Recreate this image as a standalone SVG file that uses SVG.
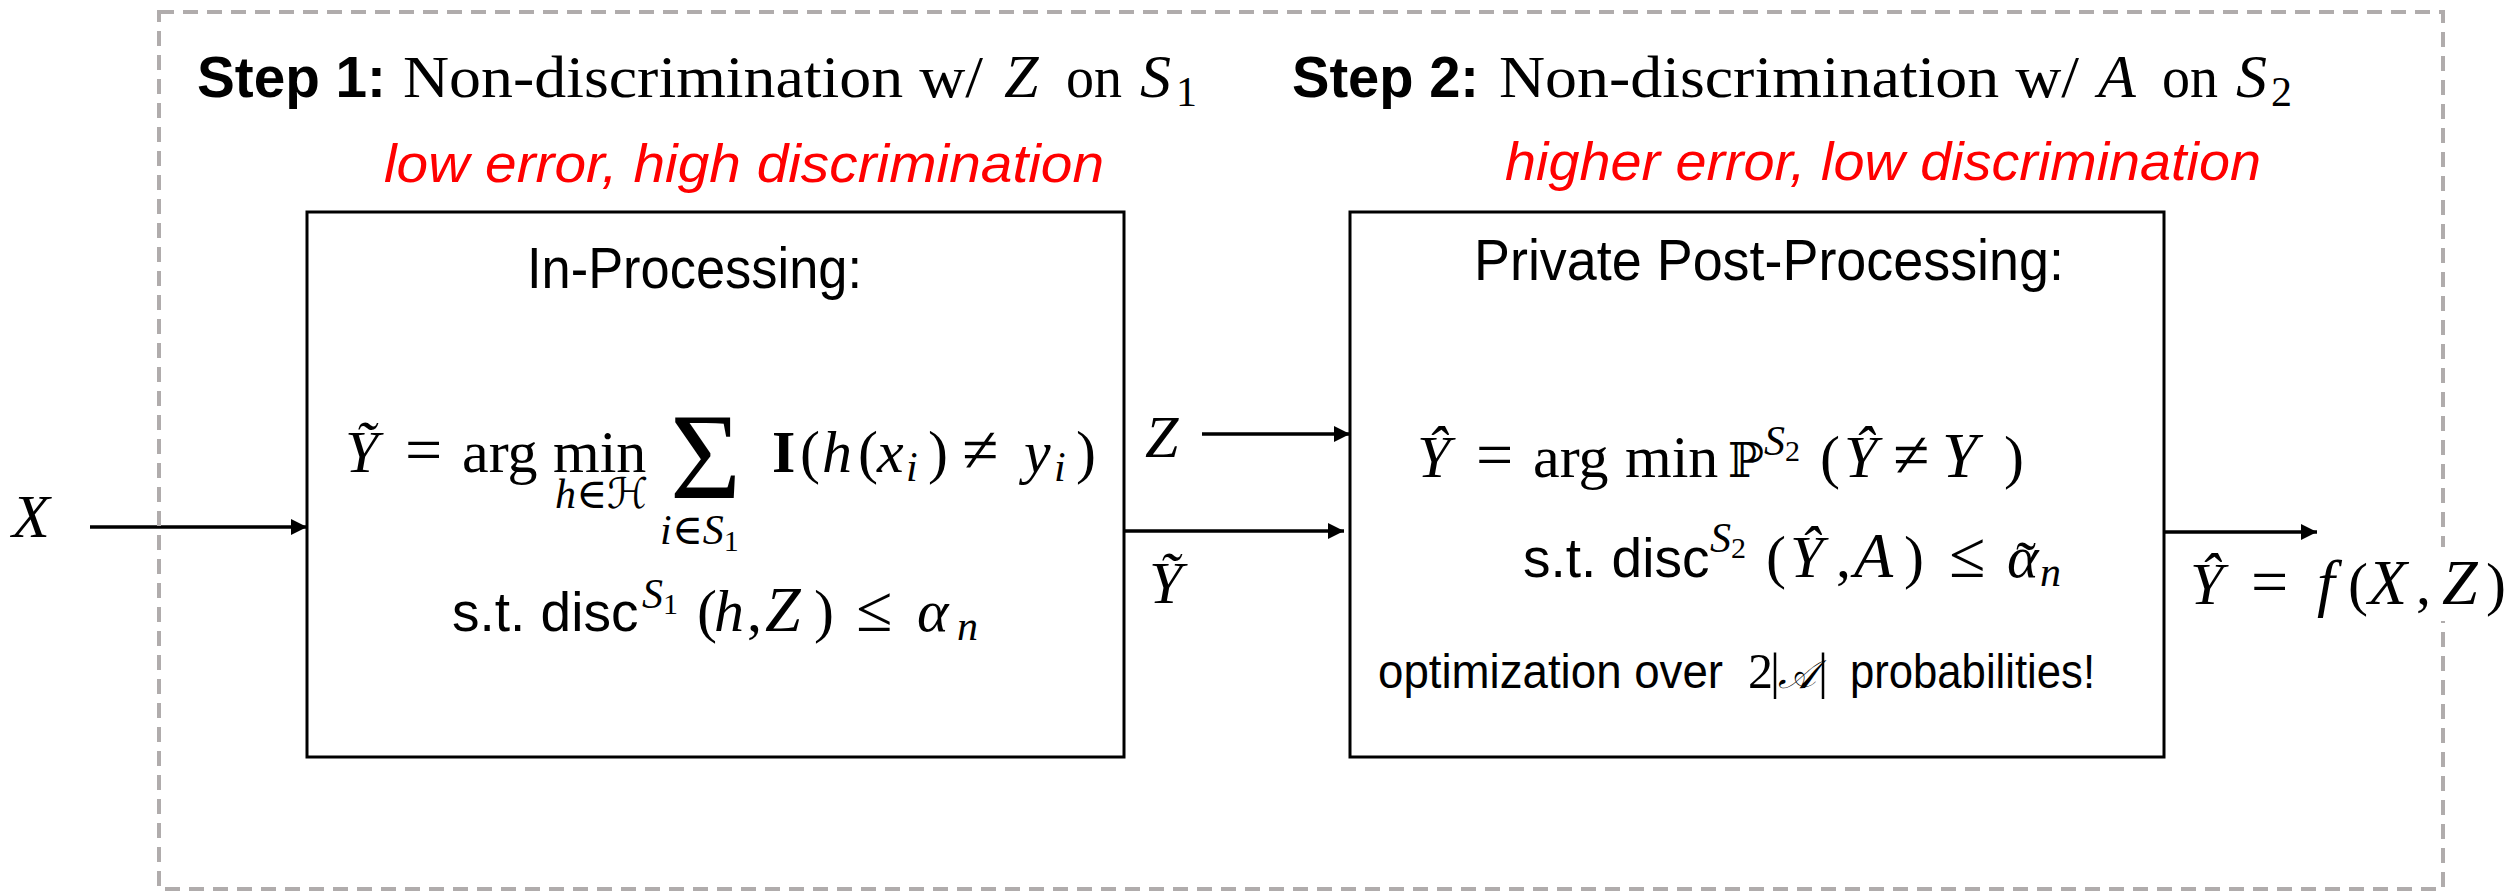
<svg xmlns="http://www.w3.org/2000/svg" width="2510" height="895" viewBox="0 0 2510 895">
<style>
  .sf{font-family:"Liberation Serif","DejaVu Serif",serif;fill:#000}
  .ss{font-family:"Liberation Sans","DejaVu Sans",sans-serif;fill:#000}
  .sb{font-family:"Liberation Sans","DejaVu Sans",sans-serif;font-weight:bold;fill:#000}
  .it{font-style:italic}
  .red{font-family:"Liberation Sans","DejaVu Sans",sans-serif;font-style:italic;fill:#ff0000}
  .dj{font-family:"DejaVu Serif","DejaVu Sans",serif}
  .box{fill:#fff;stroke:#000;stroke-width:3}
  .edge{stroke:#000;stroke-width:3.5;fill:none}
  .border{fill:none;stroke:#b0acac;stroke-width:4;stroke-dasharray:15 9}
</style>
<defs>
  <marker id="ah" markerWidth="16" markerHeight="16" refX="16" refY="8" orient="auto" markerUnits="userSpaceOnUse">
    <path d="M0,0 L16,8 L0,16 Z" fill="#000"/>
  </marker>
</defs>
<rect width="2510" height="895" fill="#fff"/>

<g id="box1">
  <rect class="box" x="307" y="212" width="817" height="545"/>
  <text class="ss" x="527" y="288" font-size="58" textLength="335" lengthAdjust="spacingAndGlyphs">In-Processing:</text>
  <g class="sf" font-size="60">
    <text x="345" y="472" class="sf it">Ỹ</text>
    <text x="405" y="472" font-size="66">=</text>
    <text x="462" y="472">arg</text>
    <text class="sf"><tspan x="553" y="472">min</tspan><tspan x="555" y="508" font-size="42" class="it">h</tspan><tspan class="dj" font-size="42">∈</tspan><tspan class="dj it" font-size="42">ℋ</tspan><tspan x="670" y="498" font-size="122">Σ</tspan><tspan x="660" y="544" font-size="42" class="it">i</tspan><tspan class="dj" font-size="42">∈</tspan><tspan class="it" font-size="42">S</tspan><tspan font-size="30" dy="7">1</tspan></text>
    <text x="772" y="472" font-weight="bold">I</text>
    <text x="800" y="472">(</text>
    <text x="822" y="472" class="sf it">h</text>
    <text x="858" y="472">(</text>
    <text x="877" y="472" class="sf it">x</text>
    <text x="906" y="481" font-size="42" class="sf it">i</text>
    <text x="928" y="472">)</text>
    <text x="962" y="472" font-size="66">≠</text>
    <text x="1024" y="472" class="sf it">y</text>
    <text x="1054" y="481" font-size="42" class="sf it">i</text>
    <text x="1076" y="472">)</text>
  </g>
  <text class="ss" x="452" y="631" font-size="55">s.t. disc</text>
  <g class="sf" font-size="60">
    <text x="642" y="608" font-size="42"><tspan class="it">S</tspan><tspan font-size="30" dy="6">1</tspan></text>
    <text x="697" y="631">(</text>
    <text x="714" y="631" class="sf it">h</text>
    <text x="747" y="631">,</text>
    <text x="765" y="631" class="sf it" font-size="64">Z</text>
    <text x="814" y="631">)</text>
    <text x="856" y="631" font-size="66">≤</text>
    <text x="917" y="631" class="sf it">α</text>
    <text x="957" y="640" font-size="42" class="sf it">n</text>
  </g>
</g>

<g id="box2">
  <rect class="box" x="1350" y="212" width="814" height="545"/>
  <text class="ss" x="1474" y="280" font-size="58" textLength="590" lengthAdjust="spacingAndGlyphs">Private Post-Processing:</text>
  <g class="sf" font-size="60">
    <text x="1417" y="477" class="sf it">Ŷ</text>
    <text x="1476" y="477" font-size="66">=</text>
    <text x="1533" y="477">arg</text>
    <text x="1625" y="477">min</text>
    <text x="1728" y="477" class="dj" font-size="48">ℙ</text>
    <text x="1764" y="455" font-size="42"><tspan class="it">S</tspan><tspan font-size="30" dy="6">2</tspan></text>
    <text x="1820" y="477">(</text>
    <text x="1844" y="477" class="sf it">Ŷ</text>
    <text x="1893" y="477" font-size="66">≠</text>
    <text x="1942" y="477" class="sf it" font-size="64">Y</text>
    <text x="2004" y="477">)</text>
  </g>
  <text class="ss" x="1523" y="577" font-size="55">s.t. disc</text>
  <g class="sf" font-size="60">
    <text x="1710" y="552" font-size="42"><tspan class="it">S</tspan><tspan font-size="30" dy="6">2</tspan></text>
    <text x="1766" y="577">(</text>
    <text x="1790" y="577" class="sf it">Ŷ</text>
    <text x="1836" y="577">,</text>
    <text x="1854" y="577" class="sf it" font-size="64">A</text>
    <text x="1904" y="577">)</text>
    <text x="1949" y="577" font-size="66">≤</text>
    <text class="sf"><tspan x="2007" y="577" class="it">α</tspan><tspan x="2016" y="582">˜</tspan><tspan x="2040" y="586" font-size="42" class="it">n</tspan></text>
  </g>
  <text class="ss" x="1378" y="688" font-size="48" textLength="345" lengthAdjust="spacingAndGlyphs">optimization over</text>
  <g class="sf" font-size="50">
    <text x="1748" y="688">2</text>
    <text x="1770" y="688">|</text>
    <text x="1778" y="688" class="dj it" font-size="40">𝒜</text>
    <text x="1818" y="688">|</text>
  </g>
  <text class="ss" x="1850" y="688" font-size="48" textLength="245" lengthAdjust="spacingAndGlyphs">probabilities!</text>
</g>

<g id="connectors">
  <line class="edge" x1="90" y1="527" x2="307" y2="527" marker-end="url(#ah)"/>
  <line class="edge" x1="1202" y1="434" x2="1350" y2="434" marker-end="url(#ah)"/>
  <line class="edge" x1="1124" y1="531" x2="1344" y2="531" marker-end="url(#ah)"/>
  <line class="edge" x1="2164" y1="532" x2="2317" y2="532" marker-end="url(#ah)"/>
</g>

<g id="frame">
  <rect class="border" x="159" y="12" width="2284" height="877"/>
</g>

<g id="headers">
  <text class="sb" x="197" y="97" font-size="58" textLength="189" lengthAdjust="spacingAndGlyphs">Step 1:</text>
  <text class="sf" x="403" y="97" font-size="60" textLength="580" lengthAdjust="spacingAndGlyphs">Non-discrimination w/</text>
  <text class="sf it" x="1004" y="97" font-size="62">Z</text>
  <text class="sf" x="1066" y="97" font-size="60" textLength="56" lengthAdjust="spacingAndGlyphs">on</text>
  <text class="sf it" x="1140" y="97" font-size="62">S</text>
  <text class="sf" x="1176" y="106" font-size="42">1</text>
  <text class="red" x="384" y="182" font-size="54" textLength="720" lengthAdjust="spacingAndGlyphs">low error, high discrimination</text>

  <text class="sb" x="1292" y="97" font-size="58" textLength="187" lengthAdjust="spacingAndGlyphs">Step 2:</text>
  <text class="sf" x="1499" y="97" font-size="60" textLength="580" lengthAdjust="spacingAndGlyphs">Non-discrimination w/</text>
  <text class="sf it" x="2098" y="97" font-size="62">A</text>
  <text class="sf" x="2162" y="97" font-size="60" textLength="56" lengthAdjust="spacingAndGlyphs">on</text>
  <text class="sf it" x="2236" y="97" font-size="62">S</text>
  <text class="sf" x="2271" y="106" font-size="42">2</text>
  <text class="red" x="1505" y="180" font-size="54" textLength="756" lengthAdjust="spacingAndGlyphs">higher error, low discrimination</text>
</g>

<g id="labels">
  <text class="sf it" x="12" y="537" font-size="62">X</text>
  <text class="sf it" x="1145" y="457" font-size="60">Z</text>
  <text class="sf it" x="1149" y="603" font-size="60">Ỹ</text>
  <rect x="2186" y="547" width="324" height="74" fill="#fff"/>
  <g class="sf" font-size="60">
    <text x="2190" y="604" class="sf it">Ŷ</text>
    <text x="2251" y="604" font-size="66">=</text>
    <text x="2317" y="604" class="sf it" font-size="64">f</text>
    <text x="2348" y="604">(</text>
    <text x="2368" y="604" class="sf it" font-size="64">X</text>
    <text x="2416" y="604">,</text>
    <text x="2442" y="604" class="sf it" font-size="64">Z</text>
    <text x="2486" y="604">)</text>
  </g>
</g>
</svg>
